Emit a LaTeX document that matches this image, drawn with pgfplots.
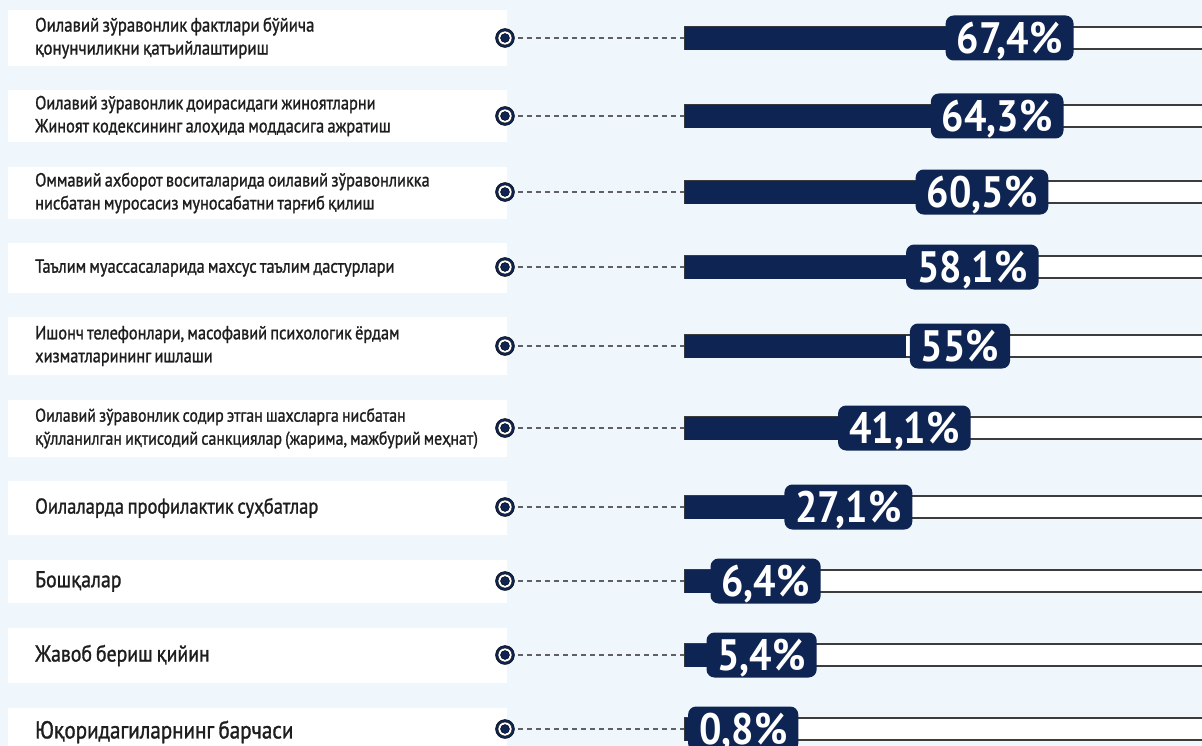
\documentclass[border=0pt]{standalone}
\usepackage{fontspec}
\setmainfont{PT Sans}
\newfontfamily\labfont[FakeStretch=0.86,FakeBold=1.2,WordSpace=0.75]{PT Sans}
\newfontfamily\pctfont[FakeStretch=0.9]{PT Sans}
\usepackage{pgfplots}
\usepackage{pgfplotstable}
\pgfplotsset{compat=1.18}
\definecolor{navy}{RGB}{14,36,82}
\definecolor{bgblue}{RGB}{239,247,253}
\definecolor{labtxt}{RGB}{30,30,30}
\definecolor{dashc}{RGB}{95,95,100}
\definecolor{trackc}{RGB}{60,60,60}

% y = row centre in px (top down), v = share in %
\pgfplotstableread{
y v
38 67.4
116 64.3
192 60.5
267 58.1
346 55
428 41.1
507 27.1
581 6.4
655 5.4
729 0.8
}\rowsdata

\tikzset{labbox/.style={fill=white,anchor=west,inner xsep=0pt,inner ysep=0pt,text=labtxt}}
\newcommand\lsmall{\labfont\fontsize{19}{23}\selectfont}
\newcommand\lmid{\labfont\fontsize{21.5}{25}\selectfont}
\newcommand\lbig{\labfont\fontsize{23}{27}\selectfont}
\newcommand\lab[1]{\hspace*{27pt}\parbox[c]{472pt}{\raggedright #1}}

\begin{document}
\begin{tikzpicture}
\fill[bgblue] (0,0) rectangle (1202pt,746pt);
\begin{axis}[
  scale only axis,width=1202pt,height=746pt,
  xmin=-171.25,xmax=129.25,ymin=0,ymax=746,y dir=reverse,
  hide axis,
  /pgf/number format/assume math mode=true,
]
  \node[labbox,minimum height=56pt,font=\lsmall\fontsize{19.5}{23}\selectfont] at (axis cs:-169.25,38) {\lab{Оилавий зўравонлик фактлари бўйича\\қонунчиликни қатъийлаштириш}};
  \node[labbox,minimum height=52pt,font=\lsmall] at (axis cs:-169.25,116) {\lab{Оилавий зўравонлик доирасидаги жиноятларни\\Жиноят кодексининг алоҳида моддасига ажратиш}};
  \node[labbox,minimum height=52pt,font=\lsmall] at (axis cs:-169.25,193) {\lab{Оммавий ахборот воситаларида оилавий зўравонликка\\нисбатан муросасиз муносабатни тарғиб қилиш}};
  \node[labbox,minimum height=50pt,font=\lsmall] at (axis cs:-169.25,268) {\lab{Таълим муассасаларида махсус таълим дастурлари}};
  \node[labbox,minimum height=58pt,font=\lsmall] at (axis cs:-169.25,346) {\lab{Ишонч телефонлари, масофавий психологик ёрдам\\хизматларининг ишлаши}};
  \node[labbox,minimum height=57pt,font=\labfont\fontsize{18.5}{23}\selectfont] at (axis cs:-169.25,428.5) {\lab{Оилавий зўравонлик содир этган шахсларга нисбатан\\қўлланилган иқтисодий санкциялар (жарима, мажбурий меҳнат)}};
  \node[labbox,minimum height=54pt,font=\lmid] at (axis cs:-169.25,508) {\lab{Оилаларда профилактик суҳбатлар}};
  \node[labbox,minimum height=43pt,font=\lbig] at (axis cs:-169.25,581.5) {\lab{Бошқалар}};
  \node[labbox,minimum height=55pt,font=\lbig] at (axis cs:-169.25,655.5) {\lab{Жавоб бериш қийин}};
  \node[labbox,minimum height=48pt,font=\lbig\fontsize{24.5}{28}\selectfont] at (axis cs:-169.25,732) {\lab{Юқоридагиларнинг барчаси}};

  % dashed leaders
  \addplot[xcomb,dashc,line width=1.1pt,dash pattern=on 5pt off 4pt] table[x expr=-43.25,y=y]{\rowsdata};
  % target markers
  \addplot[only marks,mark=*,mark size=9.5pt,mark options={fill=navy,draw=none}] table[x expr=-45,y=y]{\rowsdata};
  \addplot[only marks,mark=*,mark size=7pt,mark options={fill=white,draw=none}] table[x expr=-45,y=y]{\rowsdata};
  \addplot[only marks,mark=*,mark size=4.5pt,mark options={fill=navy,draw=none}] table[x expr=-45,y=y]{\rowsdata};
  % tracks
  \addplot[xbar,bar shift=0pt,bar width=22,fill=white,draw=trackc,line width=1.1pt] table[x expr=140,y=y]{\rowsdata};
  % values
  \addplot[xbar,bar shift=0pt,bar width=22,fill=navy,draw=navy,
    point meta=x,
    nodes near coords={\pgfmathprintnumber[use comma,fixed,precision=1]{\pgfplotspointmeta}\%},
    nodes near coords align=center,
    every node near coord/.append style={anchor=center,xshift=55pt,fill=navy,text=white,
      rounded corners=8pt,font=\pctfont\bfseries\fontsize{44}{44}\selectfont,
      inner xsep=11pt,inner ysep=7pt,text height=31pt,text depth=0pt},
  ] table[x=v,y=y]{\rowsdata};
\end{axis}
\pgfresetboundingbox
\path (0,0) rectangle (1202pt,746pt);
\end{tikzpicture}
\end{document}
